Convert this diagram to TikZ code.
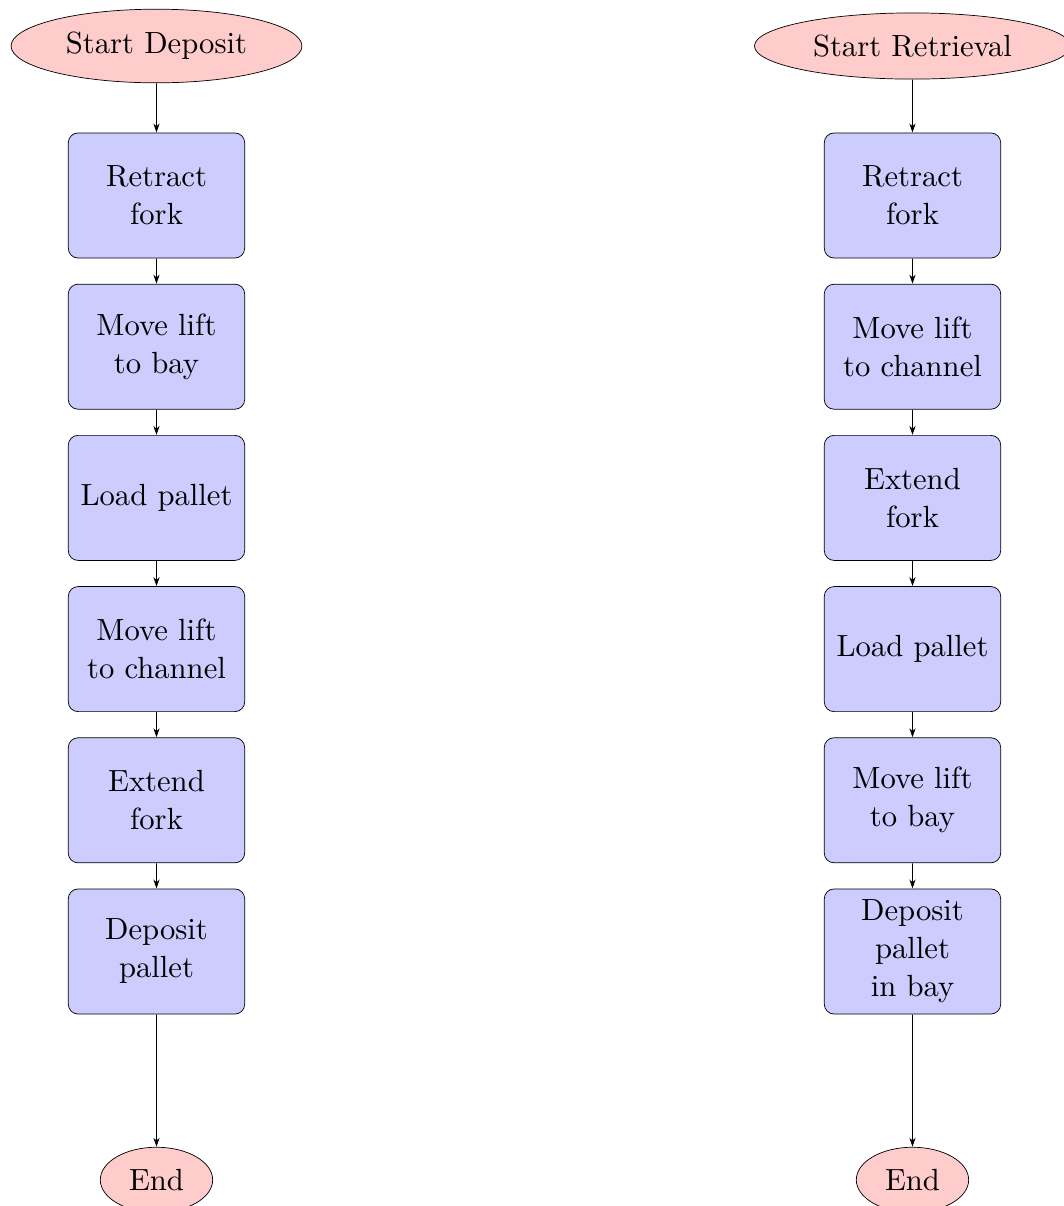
\documentclass[tikz,border=0pt]{standalone}
\usetikzlibrary{shapes.geometric,arrows.meta}
\begin{document}
\begin{tikzpicture}[
  term/.style={ellipse,draw,fill=red!20,inner sep=4pt,scale=1.73,transform shape},
  stepbox/.style={rectangle,rounded corners=5.5pt,draw,fill=blue!20,align=center,font=\fontsize{10}{12.4}\selectfont,minimum width=2.023cm,minimum height=1.434cm,scale=1.73,transform shape},
  conn/.style={-{Stealth[length=5pt,width=3.5pt]}}
]
\useasboundingbox (0,0) rectangle (21.111,-23.929);
% positions
\foreach \c/\x in {l/3.105,r/18.105}{
  \coordinate (p\c s) at (\x,-0.913);
  \coordinate (p\c e) at (\x,-23.41);
  \foreach \i in {1,...,6}
    \coordinate (p\c\i) at (\x,{-3.879-3*(\i-1)});
}
% left column
\node[term] (ls) at (pls) {Start Deposit};
\node[stepbox] (l1) at (pl1) {Retract\\fork};
\node[stepbox] (l2) at (pl2) {Move lift\\to bay};
\node[stepbox] (l3) at (pl3) {Load pallet};
\node[stepbox] (l4) at (pl4) {Move lift\\to channel};
\node[stepbox] (l5) at (pl5) {Extend\\fork};
\node[stepbox] (l6) at (pl6) {Deposit\\pallet};
\node[term] (le) at (ple) {End};
% right column
\node[term] (rs) at (prs) {Start Retrieval};
\node[stepbox] (r1) at (pr1) {Retract\\fork};
\node[stepbox] (r2) at (pr2) {Move lift\\to channel};
\node[stepbox] (r3) at (pr3) {Extend\\fork};
\node[stepbox] (r4) at (pr4) {Load pallet};
\node[stepbox] (r5) at (pr5) {Move lift\\to bay};
\node[stepbox] (r6) at (pr6) {Deposit\\pallet\\in bay};
\node[term] (re) at (pre) {End};
% connectors
\foreach \a/\b in {ls/l1,l1/l2,l2/l3,l3/l4,l4/l5,l5/l6,l6/le,rs/r1,r1/r2,r2/r3,r3/r4,r4/r5,r5/r6,r6/re}
  \draw[conn] (\a) -- (\b);
\end{tikzpicture}
\end{document}
